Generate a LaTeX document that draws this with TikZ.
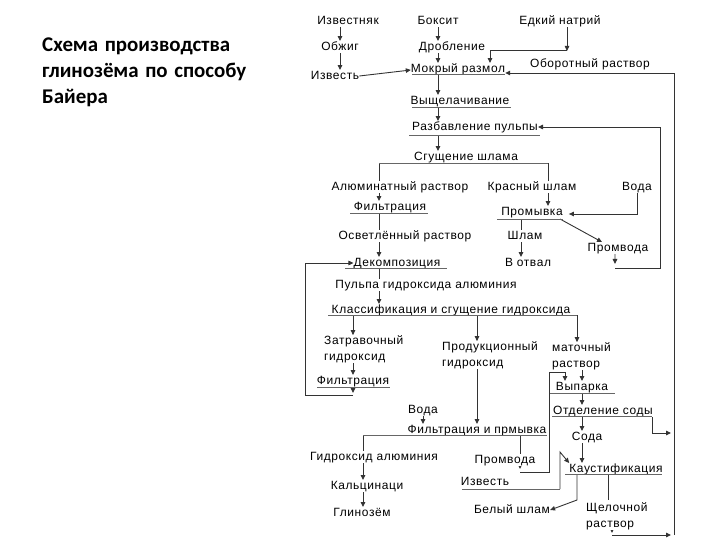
\documentclass[tikz,border=0pt]{standalone}
\usepackage{fontspec}
\setmainfont[LetterSpace=5]{Liberation Sans}
\newfontfamily\titlefont[WordSpace=1.4]{Carlito}
\usetikzlibrary{arrows.meta, backgrounds}

\begin{document}
\begin{tikzpicture}[
    x=1bp, y=-1bp,
    lbl/.style={
        fill=white, inner sep=0pt,
        text height=9bp, text depth=2.5bp,
        font=\fontsize{12}{14}\selectfont
    },
    lbltwo/.style={
        fill=white, inner sep=0pt, align=left, anchor=west,
        font=\fontsize{12}{16}\selectfont
    },
    ttl/.style={
        anchor=base west, inner sep=0pt,
        font=\titlefont\bfseries\fontsize{21}{24}\selectfont
    },
    arrow/.style={
        -{Triangle[length=5bp, width=4.5bp]}, draw=black!80, line width=0.9pt
    },
    conn/.style={draw=black!80, line width=0.9pt},
    uline/.style={draw=black!60, line width=1pt}
]
\useasboundingbox (0,0) rectangle (720,540);

% Title
\node[ttl] (t1) at (42,52) {Схема производства};
\node[ttl] (t2) at (42,78) {глинозёма по способу};
\node[ttl] (t3) at (42,104) {Байера};

% Raw materials and grinding
\node[lbl] (izvn) at (348,21) {Известняк};
\node[lbl] (obzh) at (340,47) {Обжиг};
\node[lbl] (izvs) at (335,76) {Известь};
\node[lbl] (boks) at (438,21) {Боксит};
\node[lbl] (drob) at (452,47) {Дробление};
\node[lbl] (mokr) at (458,69) {Мокрый размол};
\node[lbl] (natr) at (560,21) {Едкий натрий};
\node[lbl] (obor) at (590,64) {Оборотный раствор};

% Leaching and red mud
\node[lbl] (vysh) at (460,101) {Выщелачивание};
\node[lbl] (razb) at (475,127) {Разбавление пульпы};
\node[lbl] (sgush) at (466,157) {Сгущение шлама};
\node[lbl] (alum) at (400,187) {Алюминатный раствор};
\node[lbl] (krasn) at (532,187) {Красный шлам};
\node[lbl] (voda1) at (637,187) {Вода};
\node[lbl] (filt1) at (390,207) {Фильтрация};
\node[lbl] (prom) at (532,212) {Промывка};
\node[lbl] (osv) at (405,236) {Осветлённый раствор};
\node[lbl] (shlam) at (525,236) {Шлам};
\node[lbl] (promv1) at (618,248) {Промвода};
\node[lbl] (dekomp) at (397,263) {Декомпозиция};
\node[lbl] (otval) at (528,263) {В отвал};

% Hydroxide
\node[lbl] (pulpa) at (426,285) {Пульпа гидроксида алюминия};
\node[lbl] (klass) at (451,310) {Классификация и сгущение гидроксида};
\node[lbltwo] (zatr) at (324,349) {Затравочный\\гидроксид};
\node[lbltwo] (prod) at (442,355) {Продукционный\\гидроксид};
\node[lbltwo] (mat) at (552,356) {маточный\\раствор};
\node[lbl] (filt2) at (353,381) {Фильтрация};
\node[lbl] (vyp) at (582,387) {Выпарка};
\node[lbl] (voda2) at (423,410) {Вода};
\node[lbl] (otd) at (603,411) {Отделение соды};
\node[lbl] (filtpr) at (477,430) {Фильтрация и прмывка};
\node[lbl] (soda) at (587,437) {Сода};
\node[lbl] (gidr) at (374,457) {Гидроксид алюминия};
\node[lbl] (promv2) at (505,460) {Промвода};
\node[lbl] (kaust) at (616,469) {Каустификация};
\node[lbl] (izv2) at (485,482) {Известь};
\node[lbl] (kalc) at (367,486) {Кальцинаци};
\node[lbltwo] (shch) at (586,516) {Щелочной\\раствор};
\node[lbl] (bel) at (512,510) {Белый шлам};
\node[lbl] (glin) at (362,513) {Глинозём};

% underlines
\draw[uline] (412,75) coordinate (mokrA) -- (505,75);
\draw[uline] (412,108) coordinate (vyshA) -- (511,108);
\draw[uline] (409,136) coordinate (razbA) -- (540,136);
\draw[uline] (379,163) coordinate (sgushA) -- (548,163) coordinate (sgushB);
\draw[uline] (350,213) coordinate (filt1A) -- (428,213);
\draw[uline] (497,219) coordinate (promA) -- (563,219) coordinate (promB);
\draw[uline] (345,268) coordinate (dekA) -- (447,268);
\draw[uline] (328,315) coordinate (klassA) -- (577,315) coordinate (klassB);
\draw[uline] (317,387) coordinate (filt2A) -- (390,387);
\draw[uline] (550,393) coordinate (vypA) -- (615,393);
\draw[uline] (552,416) coordinate (otdA) -- (652,416) coordinate (otdB);
\draw[uline] (363,435) coordinate (fpA) -- (547,435);
\draw[uline] (565,474) coordinate (kaA) -- (662,474);
\draw[uline] (462,489) coordinate (izA) -- (560,489) coordinate (izB);

\begin{scope}[on background layer]
% top part
\draw[arrow] (izvn.south -| obzh) -- (obzh.north);
\draw[arrow] (obzh.south) -- (obzh.south |- izvs.north);
\draw[arrow] (izvs.east) -- ([yshift=-1bp]mokr.west);
\draw[arrow] (boks.south) -- (boks.south |- drob.north);
\draw[arrow] (drob.south -| boks) -- (boks |- mokr.north);
\draw[arrow] ([xshift=7bp]natr.south) -- ++(0,24) coordinate (natrJ);
\draw[arrow] (natrJ) -| ([xshift=32bp]mokr.north);
\draw[arrow] (mokrA -| boks) -- (boks |- vysh.north);
\draw[arrow] (vyshA -| boks) -- (boks |- razb.north);
\draw[arrow] (razbA -| boks) -- (boks |- sgush.north);

% red mud branch
\draw[arrow] (sgushA) -- (sgushA |- filt1.north);
\draw[arrow] (sgushB) -- (sgushB |- prom.north);
\draw[arrow] (filt1A -| sgushA) -- (sgushA |- dekomp.north);
\draw[arrow] (voda1.south) |- ([xshift=6bp,yshift=-2bp]prom.east);
\draw[arrow] (promA -| 521,0) -- (521,0 |- otval.north);
\draw[arrow] ([xshift=-3bp]promB) -- ([xshift=-16bp]promv1.north);
\draw[arrow] ([xshift=-3bp]promv1.south) -- (615,264);
\draw[arrow] (615,268) -| (660,127) -- (razb.east);

% decomposition and classification
\draw[arrow] (dekA -| sgushA) -- (sgushA |- klass.north);
\draw[arrow] (klassA -| filt2) -- (filt2 |- zatr.north);
\draw[arrow] (filt2 |- zatr.south) -- (filt2.north);
\draw[arrow] (filt2A -| filt2) -- ++(0,6);
\draw[arrow] ([yshift=-8bp]filt2A -| filt2) -| (305,263) -- (dekomp.west);
\draw[arrow] (klassA -| filtpr) -- (filtpr |- prod.north);
\draw[arrow] (filtpr |- prod.south) -- (filtpr.north);
\draw[arrow] (klassB) -- (klassB |- mat.north);

% mother liquor
\draw[arrow] (vyp |- mat.south) -- (vyp.north);
\draw[arrow] (fpA -| 520,0) -- (520,469);
\draw[arrow] (520,472) -| (549,372) -| ([xshift=-17bp]vyp.north);
\draw[arrow] (vypA -| vyp) -- (vyp |- otd.north);
\draw[arrow] (otdA -| vyp) -- (vyp |- soda.north);
\draw[arrow] (otdB) |- (671,433);
\draw[arrow] (soda.south -| vyp) -- (vyp |- kaust.north);
\draw[conn] (kaA -| 608,0) -- (608,500);
\draw[arrow] (kaA -| 577,0) -- (577,500) -- (bel.east);
\draw[arrow] (izB) -- (560,452) -- (kaust.north west);
\draw[arrow] (612,527) -- (612,533);
\draw[arrow] (612,535) -- (671,535);
\draw[arrow] (674,535) |- ([yshift=-4bp]mokr.east);

% alumina
\draw[arrow] (voda2.south) -- (voda2 |- filtpr.north);
\draw[conn] (fpA) -- (fpA |- gidr.north);
\draw[arrow] (gidr.south -| fpA) -- (fpA |- kalc.north);
\draw[arrow] (kalc.south -| fpA) -- (fpA |- glin.north);
\end{scope}

\end{tikzpicture}
\end{document}
